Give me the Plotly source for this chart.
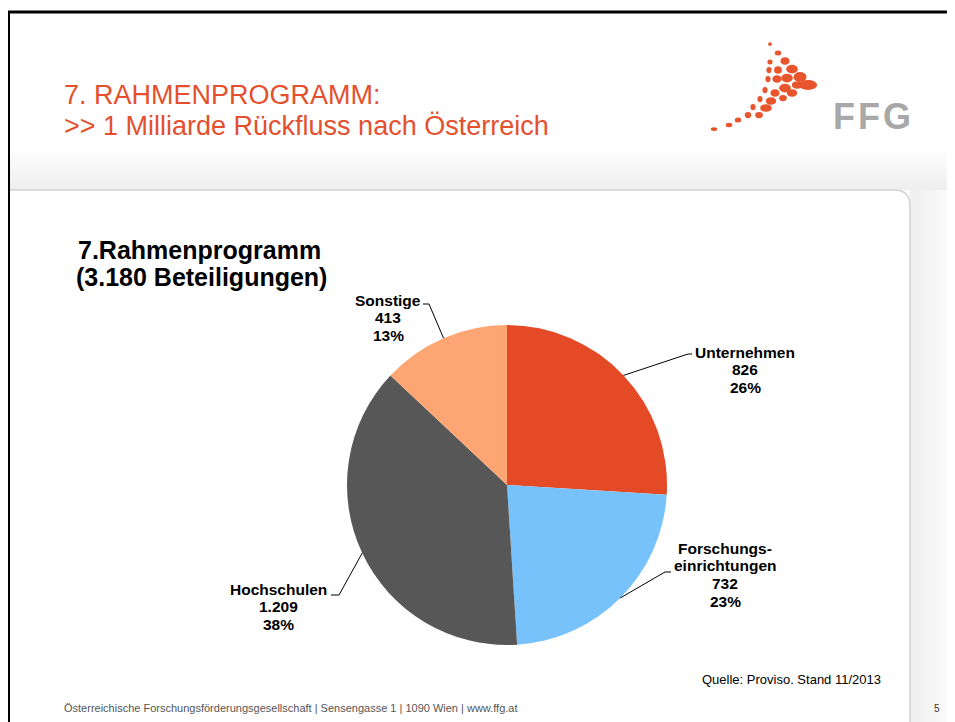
import math
import plotly.graph_objects as go

# ---- data ----
categories = ["Unternehmen", "Forschungs-|einrichtungen", "Hochschulen", "Sonstige"]
values = [826, 732, 1209, 413]
colors = ["#E44A26", "#78C2FC", "#575757", "#FDA673"]

PW, PH = 955, 722          # page (viewport) size
OFF = 8                    # browser body margin
W, H = PW - OFF, PH - OFF  # figure size
total = sum(values)
FONT = "Liberation Sans, Arial, sans-serif"


def de(n):
    return f"{n:,}".replace(",", ".")


fig = go.Figure()
fig.add_trace(go.Scatter(x=[OFF, PW], y=[OFF, PH], mode="markers",
                         marker=dict(opacity=0), hoverinfo="skip", showlegend=False))

# pie geometry (page pixels)
cx, cy, R = 507, 485, 160
fig.add_trace(go.Pie(
    labels=[c.replace("|", "") for c in categories], values=values, sort=False,
    direction="clockwise", rotation=0,
    marker=dict(colors=colors, line=dict(width=0)),
    textinfo="none", hoverinfo="label+value+percent", showlegend=False,
    domain=dict(x=[(cx - R - OFF) / W, (cx + R - OFF) / W],
                y=[(PH - (cy + R)) / H, (PH - (cy - R)) / H]),
))


def grey(v):
    v = int(round(v))
    return f"rgb({v},{v},{v})"


shapes = []
n = 14
# shadow above panel (vertical gradient)
for i in range(n):
    y0 = 150 + i * 40 / n
    shapes.append(dict(type="rect", xref="x", yref="y", x0=0, x1=PW + 5, y0=y0, y1=y0 + 40 / n + 0.5,
                       fillcolor=grey(255 - 17 * (i + 1) / n), line=dict(width=0), layer="below"))
# shadow right of panel (horizontal gradient)
for i in range(n):
    x0 = 910 + i * 45 / n
    shapes.append(dict(type="rect", xref="x", yref="y", x0=x0, x1=x0 + 45 / n + 0.5, y0=190, y1=PH + 5,
                       fillcolor=grey(239 + 15 * i / n), line=dict(width=0), layer="below"))
# rounded panel
r = 16
px0, px1, py0, py1 = 0, 910, 190, PH + 10
path = (f"M {px0},{py0} L {px1 - r},{py0} Q {px1},{py0} {px1},{py0 + r} "
        f"L {px1},{py1} L {px0},{py1} Z")
shapes.append(dict(type="path", xref="x", yref="y", path=path, fillcolor="white",
                   line=dict(color="#D4D4D4", width=1.5), layer="below"))
# black slide frame
shapes.append(dict(type="line", xref="x", yref="y", x0=7, x1=PW + 5, y0=12, y1=12,
                   line=dict(color="black", width=3)))
shapes.append(dict(type="line", xref="x", yref="y", x0=8.5, x1=8.5, y0=11, y1=PH + 5,
                   line=dict(color="black", width=3)))

# logo dots (decoration)
logo = [(770, 44, 1.5, 1.5), (778, 53, 2.5, 2), (770, 62, 2, 2), (785, 61, 3.5, 3),
        (769, 70, 2, 2.5), (778, 70, 3, 3), (792, 69, 4.5, 3.5),
        (768, 79, 2, 2.5), (777, 79, 3.5, 3), (787, 78, 4.5, 3.5), (800, 77, 5, 4),
        (808, 85, 7, 4), (797, 85, 4, 3), (785, 88, 4.5, 3.5),
        (765, 90, 2, 2.5), (775, 93, 3.5, 3), (792, 93, 4, 3),
        (760, 99, 2, 2.5), (771, 101, 4, 3), (783, 98, 3, 2.5),
        (753, 107, 2, 2.5), (766, 108, 4.5, 3),
        (748, 115, 2.5, 2.5), (759, 115, 3, 2.5),
        (738, 120, 2.5, 2), (729, 125, 2.5, 1.8), (714, 129, 2.5, 1.5)]
for (lx, ly, rx, ry) in logo:
    rx, ry = rx * 1.3, ry * 1.25
    shapes.append(dict(type="circle", xref="x", yref="y", x0=lx - rx, x1=lx + rx,
                       y0=ly - ry, y1=ly + ry, fillcolor="#E8542B", line=dict(width=0)))

# leader lines from slice midpoints (computed from values)
elbows = [((688, 354), (692, 354)), ((665, 572), (671, 572)),
          ((339, 595), (331, 595)), ((429, 304), (423, 304))]
cum = 0
for v, (e1, e2) in zip(values, elbows):
    mid = (cum + v / 2) / total
    cum += v
    a = 2 * math.pi * mid
    sx, sy = cx + R * math.sin(a), cy - R * math.cos(a)
    shapes.append(dict(type="path", xref="x", yref="y",
                       path=f"M {sx:.1f},{sy:.1f} L {e1[0]},{e1[1]} L {e2[0]},{e2[1]}",
                       line=dict(color="black", width=1)))

annotations = []


def txt(x, y, s, size, color="black", family=FONT, xanchor="center", bold=False):
    annotations.append(dict(x=x, y=y, xref="x", yref="y", showarrow=False,
                            xanchor=xanchor, yanchor="middle",
                            text=f"<b>{s}</b>" if bold else s,
                            font=dict(family=family, size=size, color=color)))


# slice labels: (center x, first line y)
label_pos = [(745, 352), (725, 548), (278, 589), (388, 300)]
for cat, v, (lx, ly) in zip(categories, values, label_pos):
    lines = cat.split("|") + [de(v), f"{round(v / total * 100)}%"]
    for k, s in enumerate(lines):
        txt(lx, ly + k * 17.7, s, 15.5, bold=True)

# titles
txt(62, 95, "7. RAHMENPROGRAMM:", 27, color="#E4502E", xanchor="left")
txt(62, 126, ">> 1 Milliarde Rückfluss nach Österreich", 27, color="#E4502E", xanchor="left")
txt(199, 250, "7.Rahmenprogramm", 25, bold=True)
txt(201, 277, f"({de(total)} Beteiligungen)", 25, bold=True)
for lx, s in [(844, "F"), (869, "F"), (897, "G")]:
    txt(lx, 116, s, 36, color="#A8A8A8", family="Liberation Sans Narrow, Liberation Sans, Arial", bold=True)
txt(883, 679, "Quelle: Proviso. Stand 11/2013", 13, xanchor="right")
txt(62, 708, "Österreichische Forschungsförderungsgesellschaft | Sensengasse 1 | 1090 Wien | www.ffg.at",
    11, color="#555555", xanchor="left")
txt(937, 708, "5", 10, color="#333333")

fig.update_layout(
    width=W, height=H, margin=dict(l=0, r=0, t=0, b=0),
    paper_bgcolor="white", plot_bgcolor="rgba(0,0,0,0)",
    xaxis=dict(range=[OFF, PW], visible=False, fixedrange=True),
    yaxis=dict(range=[PH, OFF], visible=False, fixedrange=True),
    shapes=shapes, annotations=annotations, showlegend=False,
)

fig.write_html("out.html")
